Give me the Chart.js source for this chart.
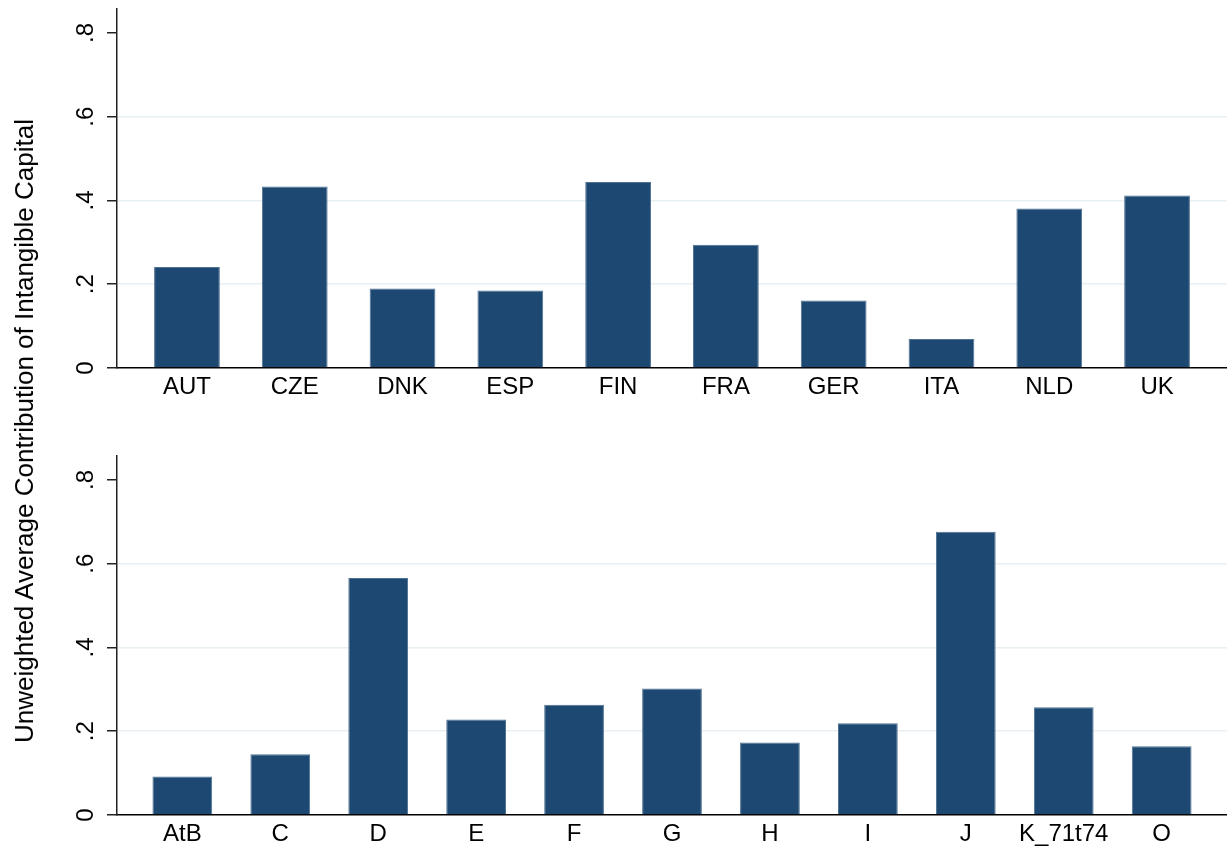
<!DOCTYPE html>
<html>
<head>
<meta charset="utf-8">
<script src="https://cdn.jsdelivr.net/npm/chart.js@4.4.1/dist/chart.umd.min.js"></script>
<style>
  html, body { margin: 0; padding: 0; background: #fff; overflow: hidden; }
  #wrap { position: relative; width: 1227px; height: 850px; }
  .panel { position: absolute; left: 0; width: 1227px; height: 403px; }
  #ytitle {
    position: absolute; left: 24px; top: 431px;
    transform: translate(-50%, -50%) rotate(-90deg);
    white-space: nowrap; color: #000;
    font-family: 'Liberation Sans', Arial, sans-serif; font-size: 26px; line-height: 26px;
  }
</style>
</head>
<body>
<div id="wrap">
  <div class="panel" style="top:0"><canvas id="country_chart" width="1227" height="403"></canvas></div>
  <div class="panel" style="top:447px"><canvas id="industry_chart" width="1227" height="403"></canvas></div>
  <div id="ytitle">Unweighted Average Contribution of Intangible Capital</div>
</div>
<script>
// top panel: by country
const countries = ["AUT", "CZE", "DNK", "ESP", "FIN", "FRA", "GER", "ITA", "NLD", "UK"];
const countryValues = [0.241, 0.433, 0.190, 0.185, 0.444, 0.294, 0.161, 0.069, 0.381, 0.412];

// bottom panel: by industry
const industries = ["AtB", "C", "D", "E", "F", "G", "H", "I", "J", "K_71t74", "O"];
const industryValues = [0.092, 0.145, 0.566, 0.228, 0.263, 0.302, 0.173, 0.219, 0.676, 0.257, 0.164];

const yTicks = [0, 0.2, 0.4, 0.6, 0.8];
const yMax = 0.857;

const fontFamily = "'Liberation Sans', Arial, sans-serif";

function makeChart(id, labels, values, edge) {
    return new Chart(document.getElementById(id), {
        type: 'bar',
        data: {
            datasets: [{
                data: values.map((v, i) => ({ x: i, y: v })),
                backgroundColor: '#1d4871',
                borderColor: '#4f7293',
                borderWidth: 1,
                borderSkipped: 'bottom',
                categoryPercentage: 0.61,
                barPercentage: 1
            }]
        },
        options: {
            responsive: false,
            animation: false,
            events: [],
            layout: { padding: { top: 9, left: 0, right: 0, bottom: 0 } },
            plugins: { legend: { display: false }, tooltip: { enabled: false } },
            scales: {
                x: {
                    type: 'linear',
                    offset: false,
                    min: -edge,
                    max: labels.length - 1 + edge,
                    afterBuildTicks: (s) => { s.ticks = labels.map((_, i) => ({ value: i })) },
                    afterFit: (s) => { s.height = 35; s.paddingLeft = 0; s.paddingRight = 0 },
                    grid: { display: false },
                    border: { display: true, color: '#000', width: 1.5 },
                    ticks: {
                        autoSkip: false, maxRotation: 0, padding: -3, color: '#000',
                        font: { family: fontFamily, size: 24 },
                        callback: (v, i) => labels[i]
                    }
                },
                y: {
                    min: 0,
                    max: yMax,
                    afterBuildTicks: (s) => { s.ticks = yTicks.map(v => ({ value: v })) },
                    afterFit: (s) => { s.width = 117; s.paddingTop = 0; s.paddingBottom = 0 },
                    grid: {
                        color: (ctx) => (ctx.tick && (ctx.tick.value === 0 || ctx.tick.value > 0.7)) ? 'rgba(0,0,0,0)' : '#e8f0f3',
                        lineWidth: 1.5,
                        tickColor: '#222',
                        tickLength: 10,
                        tickWidth: 1.5
                    },
                    border: { display: true, color: '#222', width: 1.5 },
                    ticks: {
                        minRotation: 90, maxRotation: 90, crossAlign: 'center', padding: 11, color: '#000',
                        font: { family: fontFamily, size: 24 },
                        callback: (v) => v === 0 ? '0' : v.toFixed(1).replace(/^0/, '')
                    }
                }
            }
        }
    });
}

makeChart('country_chart', countries, countryValues, 0.649);
makeChart('industry_chart', industries, industryValues, 0.667);
</script>
</body>
</html>
